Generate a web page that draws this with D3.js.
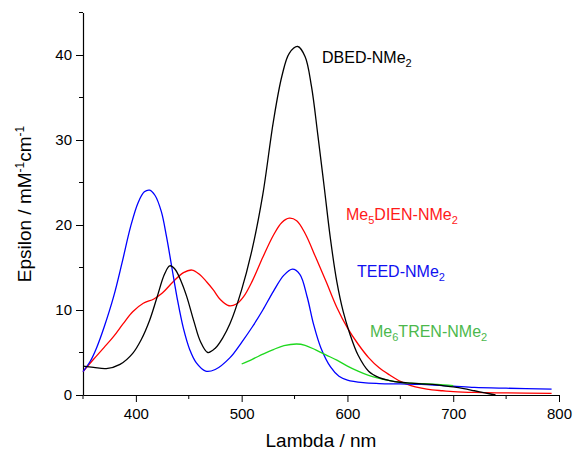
<!DOCTYPE html>
<html>
<head>
<meta charset="utf-8">
<script src="https://cdn.jsdelivr.net/npm/d3@7"></script>
<style>
  body { margin: 0; background: #fff; }
  svg { font-family: "Liberation Sans", Arial, sans-serif; }
</style>
</head>
<body>
<svg id="chart" width="573" height="453"></svg>
<script>
// wavelength (nm) / epsilon (mM-1 cm-1)
let dbedLambda = [350, 360, 372, 385, 397, 405, 413, 420, 427, 432, 437, 443, 448, 455, 461, 468, 475, 482, 489, 500, 510, 520, 530, 538, 545, 553, 560, 566, 572, 578, 584, 590, 596, 602, 610, 620, 630, 640, 650, 660, 670, 680, 690, 700, 710, 720, 730, 740]
let dbedEps = [3.4, 3.25, 3.1, 3.6, 4.9, 6.5, 8.8, 11.5, 14.2, 15.2, 14.8, 13.3, 11.6, 8.6, 6.3, 5.0, 5.5, 6.7, 8.4, 12.4, 17.2, 23.6, 32.2, 37.5, 40.2, 41.0, 39.8, 36.3, 30.6, 24.5, 18.3, 13.3, 9.8, 7.3, 4.7, 2.8, 2.05, 1.7, 1.5, 1.4, 1.3, 1.25, 1.1, 0.95, 0.75, 0.5, 0.25, 0]

let dienLambda = [350, 360, 370, 379, 388, 397, 407, 417, 425, 435, 445, 453, 460, 467, 473, 480, 488, 495, 502, 510, 520, 530, 538, 545, 552, 560, 570, 580, 590, 600, 610, 620, 630, 640, 650, 660, 670, 680, 690, 700, 720, 750, 793]
let dienEps = [2.75, 4.2, 5.6, 6.9, 8.4, 9.8, 10.8, 11.3, 12.0, 13.3, 14.4, 14.7, 14.2, 13.3, 12.4, 11.2, 10.5, 10.7, 11.6, 13.4, 16.2, 18.8, 20.3, 20.8, 20.5, 19.0, 16.2, 13.3, 10.3, 7.9, 6.0, 4.4, 3.2, 2.35, 1.6, 1.1, 0.8, 0.6, 0.5, 0.4, 0.3, 0.25, 0.2]

let teedLambda = [350, 357, 363, 370, 379, 387, 395, 402, 408, 413, 418, 424, 429, 434, 439, 445, 451, 457, 466, 475, 489, 500, 510, 520, 530, 540, 548, 555, 562, 568, 575, 584, 592, 600, 615, 630, 650, 670, 690, 700, 720, 750, 793]
let teedEps = [2.75, 4.0, 5.6, 8.0, 11.6, 15.6, 19.8, 22.6, 23.9, 24.1, 23.5, 21.6, 18.6, 15.0, 11.4, 7.8, 5.3, 3.8, 2.8, 3.0, 4.4, 6.2, 8.0, 10.0, 12.2, 14.1, 14.8, 14.2, 11.5, 8.3, 5.5, 3.3, 2.2, 1.75, 1.45, 1.35, 1.3, 1.25, 1.1, 1.05, 0.9, 0.8, 0.7]

let trenLambda = [500, 510, 520, 530, 540, 552, 560, 570, 580, 590, 600, 610, 620, 630, 640, 652, 670, 685, 700]
let trenEps = [3.65, 4.2, 4.8, 5.35, 5.8, 6.0, 5.85, 5.3, 4.7, 4.1, 3.4, 2.8, 2.3, 1.95, 1.7, 1.45, 1.35, 1.25, 1.1]

let xTicks = [400, 500, 600, 700, 800]
let yTicks = [0, 10, 20, 30, 40]

let series = [
    { lambda: dienLambda, eps: dienEps, color: "#ff0000" },
    { lambda: teedLambda, eps: teedEps, color: "#0000ff" },
    { lambda: trenLambda, eps: trenEps, color: "#1ed81e" },
    { lambda: dbedLambda, eps: dbedEps, color: "#000000" }
]

let svg = d3.select("#chart")

let x = d3.scaleLinear().domain([350, 800]).range([83, 559])
let y = d3.scaleLinear().domain([0, 45]).range([395, 12.5])

// axes: major ticks with labels, minor ticks in between
let xAxis = svg.append("g")
    .attr("transform", "translate(0,395)")
    .call(d3.axisBottom(x).tickValues(xTicks).tickSize(7).tickSizeOuter(0).tickPadding(6))
xAxis.selectAll("g.minor")
    .data([350, 450, 550, 650, 750])
    .enter()
    .append("line")
    .attr("x1", d => x(d)).attr("x2", d => x(d))
    .attr("y1", 0).attr("y2", 4)
    .attr("stroke", "#000")

let yAxis = svg.append("g")
    .attr("transform", "translate(83,0)")
    .call(d3.axisLeft(y).tickValues(yTicks).tickSize(7).tickSizeOuter(0).tickPadding(4))
yAxis.selectAll("g.minor")
    .data([5, 15, 25, 35, 45])
    .enter()
    .append("line")
    .attr("y1", d => y(d)).attr("y2", d => y(d))
    .attr("x1", 0).attr("x2", -4)
    .attr("stroke", "#000")

svg.selectAll(".domain").attr("stroke", "#000").attr("stroke-width", 1.2)
svg.selectAll(".tick line").attr("stroke", "#000")
svg.selectAll(".tick text")
    .attr("font-size", 15)
    .attr("font-family", "Liberation Sans, Arial, sans-serif")
    .attr("fill", "#000")

// curves
let line = d3.line()
    .x(d => x(d[0]))
    .y(d => y(d[1]))
    .curve(d3.curveCatmullRom.alpha(0.5))

series.forEach(s => {
    svg.append("path")
        .datum(d3.zip(s.lambda, s.eps))
        .attr("d", line)
        .attr("fill", "none")
        .attr("stroke", s.color)
        .attr("stroke-width", 1.3)
})

// axis titles
svg.append("text")
    .attr("x", 321)
    .attr("y", 447)
    .attr("text-anchor", "middle")
    .attr("font-size", 19)
    .text("Lambda / nm")

let yTitle = svg.append("text")
    .attr("transform", "translate(31,204) rotate(-90)")
    .attr("text-anchor", "middle")
    .attr("font-size", 19)
yTitle.append("tspan").text("Epsilon / mM")
yTitle.append("tspan").attr("font-size", 12).attr("dy", -7).text("-1")
yTitle.append("tspan").attr("dy", 7).text("cm")
yTitle.append("tspan").attr("font-size", 12).attr("dy", -7).text("-1")

// curve labels, with subscripts
function label(xPos, yPos, color, parts) {
    let t = svg.append("text")
        .attr("x", xPos)
        .attr("y", yPos)
        .attr("font-size", 16)
        .attr("fill", color)
    let shift = 0
    parts.forEach(p => {
        let dy = p.sub ? 4 - shift : -shift
        t.append("tspan")
            .attr("dy", dy)
            .attr("font-size", p.sub ? 11 : 16)
            .text(p.t)
        shift = p.sub ? 4 : 0
    })
}

label(322, 63, "#000000", [{ t: "DBED-NMe" }, { t: "2", sub: true }])
label(346, 220, "#ff1a1a", [{ t: "Me" }, { t: "5", sub: true }, { t: "DIEN-NMe" }, { t: "2", sub: true }])
label(357, 277, "#1010f0", [{ t: "TEED-NMe" }, { t: "2", sub: true }])
label(370, 337, "#4cb84c", [{ t: "Me" }, { t: "6", sub: true }, { t: "TREN-NMe" }, { t: "2", sub: true }])
</script>
</body>
</html>
